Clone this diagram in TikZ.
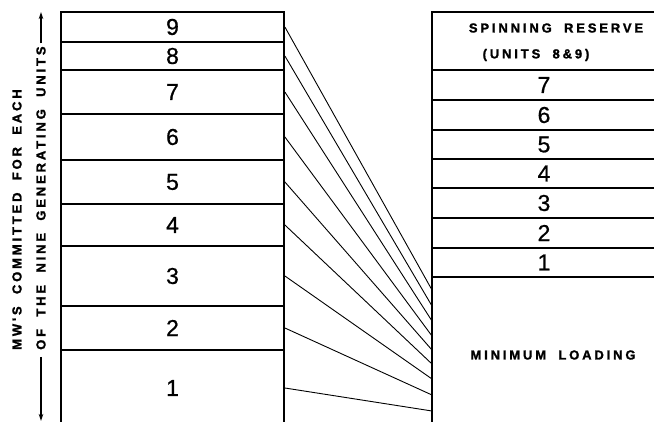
\documentclass[tikz,border=0pt]{standalone}
\usepackage{fontspec}
\setmainfont{Liberation Sans}
\newfontfamily\lblfont[LetterSpace=22,WordSpace=1.9,BoldFeatures={FakeBold=1.6}]{Liberation Sans}
\newfontfamily\digfont[FakeBold=0.8]{Liberation Sans}
\usetikzlibrary{arrows.meta}
\begin{document}
\begin{tikzpicture}[x=1pt,y=-1pt,
  unitbox/.style={draw, line width=1.8pt, inner sep=0pt, font=\digfont\fontsize{23}{23}\selectfont},
  lbl/.style={inner sep=0pt, font=\lblfont\bfseries\fontsize{13}{13}\selectfont},
  conn/.style={line width=0.9pt},
  arr/.style={line width=1.4pt, -{Stealth[length=7pt,width=4.5pt]}}]
\useasboundingbox (0,0) rectangle (654,422);
% left stack
\node[unitbox, minimum width=223pt, minimum height=30pt] (L9) at (172.5,27) {9};
\node[unitbox, minimum width=223pt, minimum height=28pt] (L8) at (172.5,56) {8};
\node[unitbox, minimum width=223pt, minimum height=44pt] (L7) at (172.5,92) {7};
\node[unitbox, minimum width=223pt, minimum height=46pt] (L6) at (172.5,137) {6};
\node[unitbox, minimum width=223pt, minimum height=44pt] (L5) at (172.5,182) {5};
\node[unitbox, minimum width=223pt, minimum height=42pt] (L4) at (172.5,225) {4};
\node[unitbox, minimum width=223pt, minimum height=60pt] (L3) at (172.5,276) {3};
\node[unitbox, minimum width=223pt, minimum height=44pt] (L2) at (172.5,328) {2};
\node[unitbox, minimum width=223pt, minimum height=76pt] (L1) at (172.5,388) {1};
% right stack
\node[unitbox, minimum width=224pt, minimum height=58pt] (Rres) at (544,41) {};
\node[unitbox, minimum width=224pt, minimum height=30pt] (R7) at (544,85) {7};
\node[unitbox, minimum width=224pt, minimum height=30pt] (R6) at (544,115) {6};
\node[unitbox, minimum width=224pt, minimum height=29pt] (R5) at (544,144.5) {5};
\node[unitbox, minimum width=224pt, minimum height=29pt] (R4) at (544,173.5) {4};
\node[unitbox, minimum width=224pt, minimum height=30pt] (R3) at (544,203) {3};
\node[unitbox, minimum width=224pt, minimum height=30pt] (R2) at (544,233) {2};
\node[unitbox, minimum width=224pt, minimum height=29pt] (R1) at (544,262.5) {1};
\node[unitbox, minimum width=224pt, minimum height=150pt] (Rmin) at (544,352) {};
\node[lbl] (sr1) at (556,28) {SPINNING RESERVE};
\node[lbl] (sr2) at (536,55) {(UNITS 8\&9)};
\node[lbl] (ml) at (553,355) {MINIMUM LOADING};
% connector ends
\coordinate (t9) at (432,290);
\coordinate (t8) at (432,306);
\coordinate (t7) at (432,321);
\coordinate (t6) at (432,336);
\coordinate (t5) at (432,350);
\coordinate (t4) at (432,364);
\coordinate (t3) at (432,379);
\coordinate (t2) at (432,395);
\coordinate (t1) at (432,411);
\foreach \i in {1,...,9} {\draw[conn] (L\i.east) -- (t\i);}
% left axis label
\node[lbl, rotate=90, anchor=west] (ax1) at (17,350) {MW'S COMMITTED FOR EACH};
\node[lbl, rotate=90, anchor=west] (ax2) at (41,350) {OF THE NINE GENERATING UNITS};
\coordinate (atop) at (41,12);
\coordinate (abot) at (41,421);
\draw[arr, shorten <=3pt] (ax2.east) -- (atop);
\draw[arr, shorten <=7pt] (ax2.west) -- (abot);
\end{tikzpicture}
\end{document}
